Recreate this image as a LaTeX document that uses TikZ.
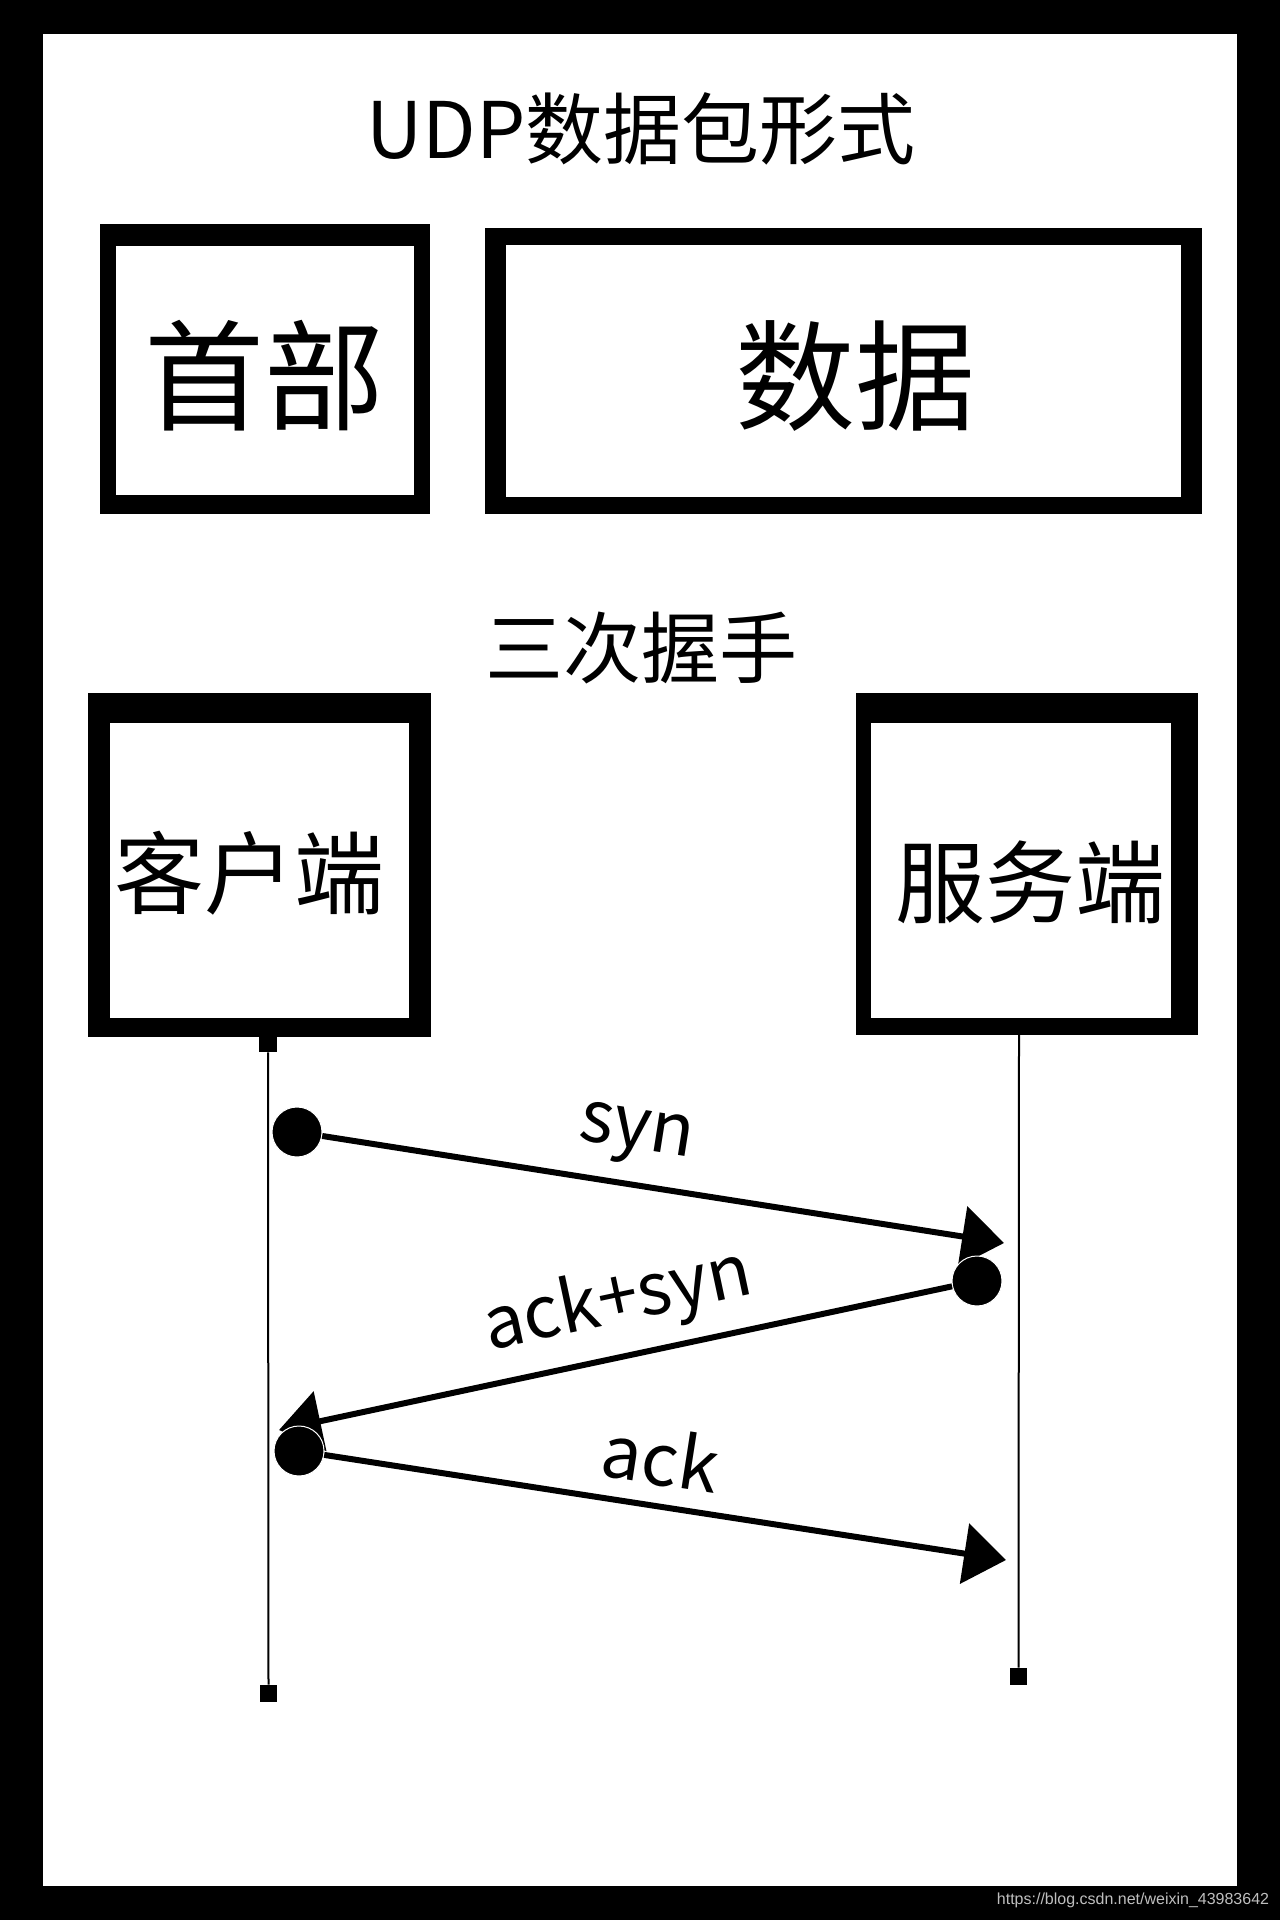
\documentclass[tikz,border=0pt]{standalone}
\usepackage{fontspec}
\setmainfont{Noto Sans CJK SC}
\newfontfamily\wmfont{Liberation Sans}
\usetikzlibrary{arrows.meta}
\definecolor{wmgray}{RGB}{190,190,190}
\begin{document}
\begin{tikzpicture}[x=0.5pt,y=-0.5pt,
  titletext/.style={font=\fontsize{39}{47}\selectfont, anchor=base, inner sep=0pt},
  bigtext/.style={font=\fontsize{60}{72}\selectfont, anchor=base, inner sep=0pt},
  midtext/.style={font=\fontsize{45}{54}\selectfont, anchor=base, inner sep=0pt},
  lbl/.style={font=\fontsize{36}{43}\selectfont, inner sep=0pt},
  dotc/.style={circle, fill=black, draw=white, line width=0.5pt, inner sep=0pt, minimum size=25pt},
  msg/.style={line width=3pt, -{Triangle[length=21pt,width=30pt]}},
  life/.style={line width=1pt},
  endsq/.style={fill=black, inner sep=0pt, minimum width=8.5pt, minimum height=8.5pt},
  startsq/.style={fill=black, inner sep=0pt, minimum width=9pt, minimum height=7.5pt},
  wm/.style={font=\wmfont\fontsize{8}{10}\selectfont, text=wmgray, inner sep=0pt},
]
\useasboundingbox (0,0) rectangle (1280,1920);
% frame
\fill[black] (0,0) rectangle (1280,1920);
\fill[white] (43,34) rectangle (1237,1886);

% title
\node[titletext] (ttl) at (641,159) {UDP数据包形式};

% packet boxes
\fill[black] (100,224) rectangle (430,514);
\fill[white] (116,246) rectangle (414,495);
\node[bigtext] (hdr) at (264,421) {首部};
\fill[black] (485,228) rectangle (1202,514);
\fill[white] (506,245) rectangle (1181,497);
\node[bigtext] (dat) at (855,421) {数据};

% handshake title
\node[titletext] (hs) at (641,677) {三次握手};

% client / server boxes
\fill[black] (88,693) rectangle (431,1037);
\fill[white] (110,723) rectangle (409,1018);
\node[midtext] (cli) at (249,907) {客户端};
\fill[black] (856,693) rectangle (1198,1035);
\fill[white] (871,723) rectangle (1171,1018);
\node[midtext] (srv) at (1030,916) {服务端};

% lifelines
\node[startsq] (cstart) at (268,1044.5) {};
\node[endsq] (cend) at (268.5,1693.5) {};
\coordinate (sstart) at (1019,1035);
\node[endsq] (send) at (1018.5,1676.5) {};
\draw[life] (cstart.south) -- (cend.north);
\draw[life] (sstart) -- (send.north);

% messages
\node[dotc] (d1) at (297,1132) {};
\coordinate (t1) at (1004,1243);
\draw[msg] (d1) -- (t1);
\node[lbl, rotate=-9] (l1) at (636,1137) {syn};

\node[dotc] (d2) at (977,1281) {};
\coordinate (t2) at (279,1430);
\draw[msg] (d2) -- (t2);
\node[lbl, rotate=12] (l2) at (618,1302) {ack+syn};

\node[dotc] (d3) at (299,1451) {};
\coordinate (t3) at (1006,1560);
\draw[msg] (d3) -- (t3);
\node[lbl, rotate=-8.8] (l3) at (661,1457) {ack};

% watermark
\node[wm] (wmk) at (1133,1900) {https://blog.csdn.net/weixin\_43983642};
\end{tikzpicture}
\end{document}
